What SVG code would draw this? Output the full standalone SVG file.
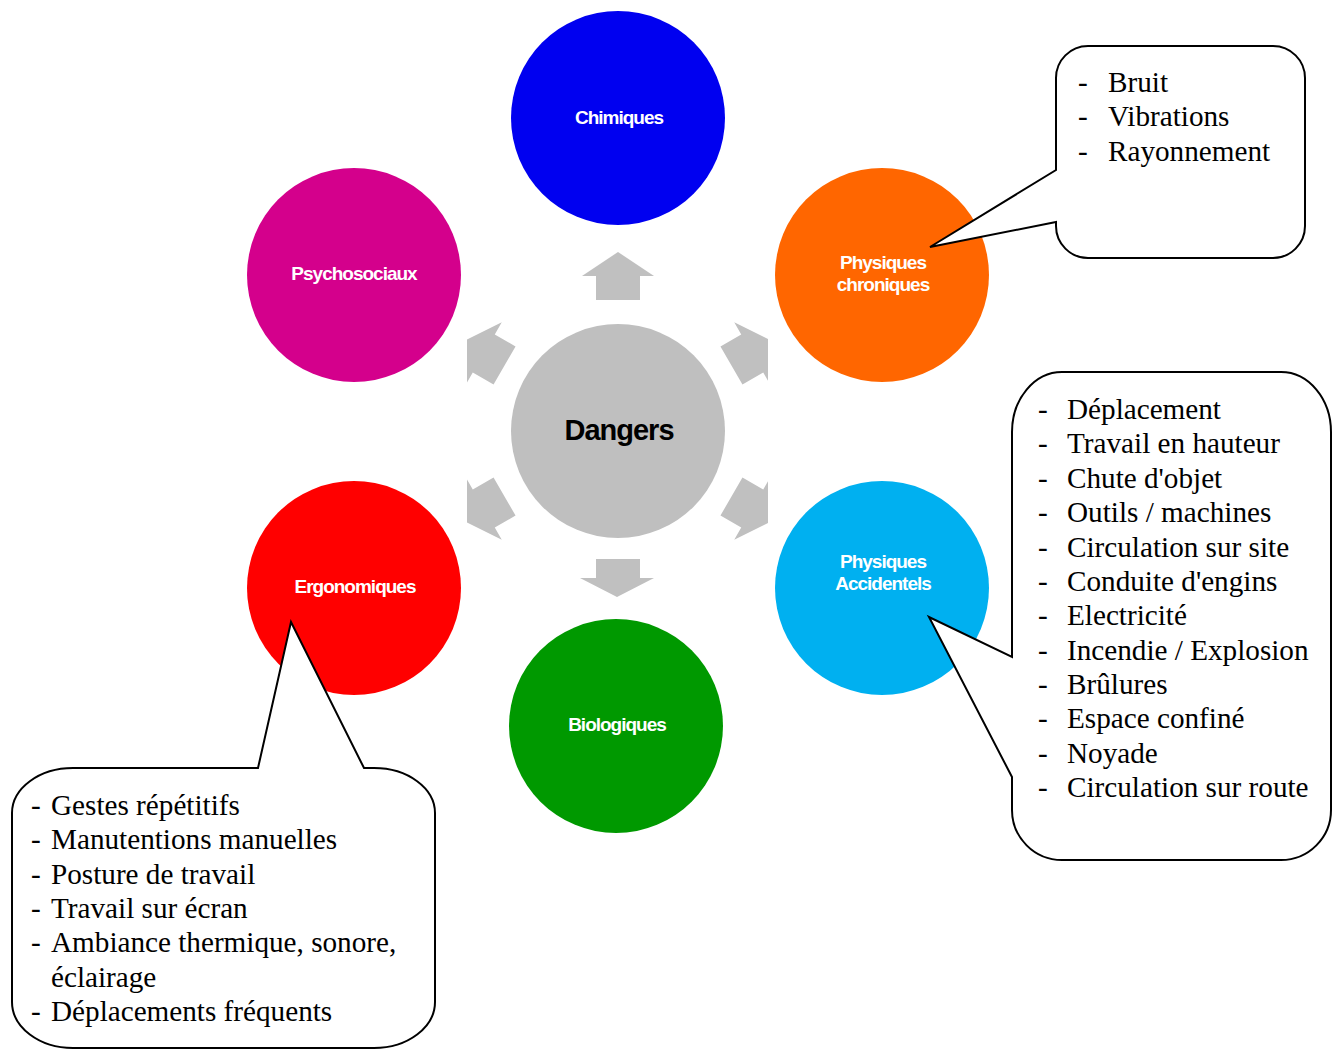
<svg xmlns="http://www.w3.org/2000/svg" width="1340" height="1049" viewBox="0 0 1340 1049">
<style>
.lbl{font-family:"Liberation Sans",Arial,sans-serif;font-weight:bold;font-size:19px;fill:#fff;text-anchor:middle;letter-spacing:-1px}
.ctr{font-family:"Liberation Sans",Arial,sans-serif;font-weight:bold;font-size:29px;fill:#000;text-anchor:middle;letter-spacing:-1px}
.co{fill:#fff;stroke:#000;stroke-width:2;stroke-linejoin:miter}
.tx{font-family:"Liberation Serif","Times New Roman",serif;font-size:29.2px;fill:#000}
.arr{fill:#C0C0C0}
</style>
<defs>
<path id="up" d="M618,252 L654,276 L640,276 L640,300 L596,300 L596,276 L582,276 Z"/>
<clipPath id="ac"><rect x="467" y="240" width="301" height="370"/></clipPath>
</defs>
<rect width="1340" height="1049" fill="#fff"/>
<g id="connectors" class="arr" clip-path="url(#ac)">
<use href="#up"/>
<use href="#up" transform="rotate(60 618 431)"/>
<use href="#up" transform="rotate(120 618 431)"/>
<use href="#up" transform="rotate(240 618 431)"/>
<use href="#up" transform="rotate(300 618 431)"/>
<path d="M596,559 L640,559 L640,578 L654,578 L617,597 L580,578 L596,578 Z"/>
</g>
<g id="dangers"><circle cx="618" cy="431" r="107" fill="#BFBFBF"/><text class="ctr" x="619" y="440">Dangers</text></g>
<g id="chimiques"><circle cx="618" cy="118" r="107" fill="#0000F0"/><text class="lbl" x="619" y="124">Chimiques</text></g>
<g id="psychosociaux"><circle cx="354" cy="275" r="107" fill="#D4008C"/><text class="lbl" x="354" y="280">Psychosociaux</text></g>
<g id="physiques-chroniques"><circle cx="882" cy="275" r="107" fill="#FF6600"/><text class="lbl" x="883" y="269">Physiques</text><text class="lbl" x="883" y="291">chroniques</text></g>
<g id="physiques-accidentels"><circle cx="882" cy="588" r="107" fill="#00B0F0"/><text class="lbl" x="883" y="568">Physiques</text><text class="lbl" x="883" y="590">Accidentels</text></g>
<g id="ergonomiques"><circle cx="354" cy="588" r="107" fill="#FF0000"/><text class="lbl" x="355" y="593">Ergonomiques</text></g>
<g id="biologiques"><circle cx="616" cy="726" r="107" fill="#009900"/><text class="lbl" x="617" y="731">Biologiques</text></g>
<g id="callout-chroniques">
<path class="co" d="M1088,46 H1273 A32,32 0 0 1 1305,78 V226 A32,32 0 0 1 1273,258 H1088 A32,32 0 0 1 1056,226 V222 L930,247 L1056,170 V78 A32,32 0 0 1 1088,46 Z"/>
<g class="tx">
<text x="1078" y="92">-</text><text x="1108" y="92">Bruit</text>
<text x="1078" y="126">-</text><text x="1108" y="126">Vibrations</text>
<text x="1078" y="161">-</text><text x="1108" y="161">Rayonnement</text>
</g>
</g>
<g id="callout-accidentels">
<path class="co" d="M1062,372 H1281 A50,60 0 0 1 1331,432 V810 A50,50 0 0 1 1281,860 H1062 A50,50 0 0 1 1012,810 V777 L929,617 L1012,657 V432 A50,60 0 0 1 1062,372 Z"/>
<g class="tx">
<text x="1038" y="419">-</text><text x="1067" y="419">Déplacement</text>
<text x="1038" y="453">-</text><text x="1067" y="453">Travail en hauteur</text>
<text x="1038" y="488">-</text><text x="1067" y="488">Chute d'objet</text>
<text x="1038" y="522">-</text><text x="1067" y="522">Outils / machines</text>
<text x="1038" y="557">-</text><text x="1067" y="557">Circulation sur site</text>
<text x="1038" y="591">-</text><text x="1067" y="591">Conduite d'engins</text>
<text x="1038" y="625">-</text><text x="1067" y="625">Electricité</text>
<text x="1038" y="660">-</text><text x="1067" y="660">Incendie / Explosion</text>
<text x="1038" y="694">-</text><text x="1067" y="694">Brûlures</text>
<text x="1038" y="728">-</text><text x="1067" y="728">Espace confiné</text>
<text x="1038" y="763">-</text><text x="1067" y="763">Noyade</text>
<text x="1038" y="797">-</text><text x="1067" y="797">Circulation sur route</text>
</g>
</g>
<g id="callout-ergonomiques">
<path class="co" d="M73,768 H258 L291,622 L364,768 H374 A61,45 0 0 1 435,813 V1002 A61,46 0 0 1 374,1048 H73 A61,46 0 0 1 12,1002 V813 A61,45 0 0 1 73,768 Z"/>
<g class="tx">
<text x="31" y="815">-</text><text x="51" y="815">Gestes répétitifs</text>
<text x="31" y="849">-</text><text x="51" y="849">Manutentions manuelles</text>
<text x="31" y="884">-</text><text x="51" y="884">Posture de travail</text>
<text x="31" y="918">-</text><text x="51" y="918">Travail sur écran</text>
<text x="31" y="952">-</text><text x="51" y="952">Ambiance thermique, sonore,</text>
<text x="51" y="987">éclairage</text>
<text x="31" y="1021">-</text><text x="51" y="1021">Déplacements fréquents</text>
</g>
</g>
</svg>
